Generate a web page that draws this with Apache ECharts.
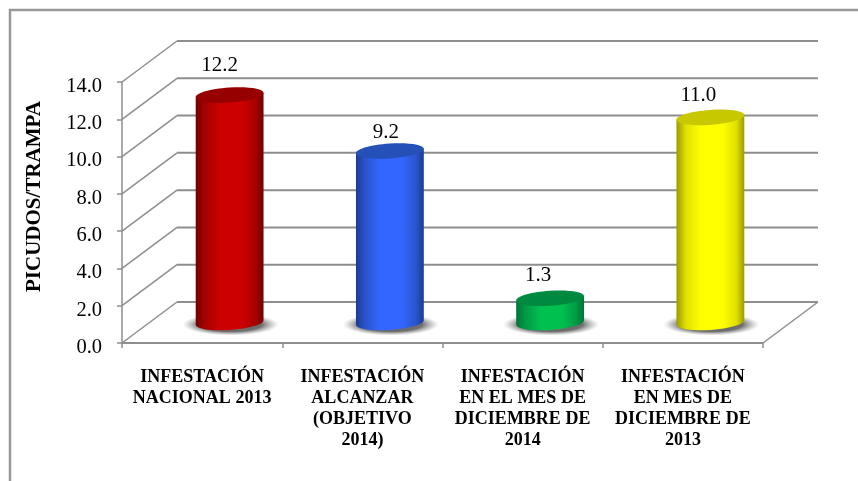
<!DOCTYPE html>
<html>
<head>
<meta charset="utf-8">
<style>
html,body{margin:0;padding:0;background:#fff;overflow:hidden}
#main{width:858px;height:481px}
</style>
<script src="https://cdn.jsdelivr.net/npm/echarts@6/dist/echarts.min.js"></script>
</head>
<body>
<div id="main"></div>
<script>
var categories = [
    'INFESTACIÓN\nNACIONAL 2013',
    'INFESTACIÓN\nALCANZAR\n(OBJETIVO\n2014)',
    'INFESTACIÓN\nEN EL MES DE\nDICIEMBRE DE\n2014',
    'INFESTACIÓN\nEN MES DE\nDICIEMBRE DE\n2013'
];
var values = [12.2, 9.2, 1.3, 11.0];
var yTicks = [0, 2, 4, 6, 8, 10, 12, 14];

// one palette per cylinder: edge, shoulder, centre, lid
var edgeColors = ['#720000', '#1c3a94', '#00733a', '#9a9a00'];
var shoulderColors = ['#a60000', '#2b55cc', '#009a45', '#e0e000'];
var centerColors = ['#cc0000', '#3366ff', '#00c050', '#ffff00'];
var lidColors = ['#960000', '#2450b8', '#008a40', '#c8c800'];

// hand placed value labels, relative to the middle of the lid
var labelShiftX = [-10, -4, -12, -12];
var labelShiftY = [-30, -19, -23, -22];

var FONT = '"Liberation Serif", "Times New Roman", serif';
var GRID_COLOR = '#8e8e8e';
var DEPTH_X = 55;
var DEPTH_Y = -41;
var RX = 34;
var RY = 7.5;
var TILT = 4 * Math.PI / 180;

function render_walls(params, api) {
    var cs = params.coordSys;
    var y = api.coord([0, api.value(0)])[1];
    var left = cs.x;
    var right = cs.x + cs.width;
    var children = [{
        type: 'line',
        shape: {x1: left, y1: y, x2: left + DEPTH_X, y2: y + DEPTH_Y},
        style: {stroke: GRID_COLOR, lineWidth: 1.5}
    }, {
        type: 'line',
        shape: {x1: left + DEPTH_X, y1: y + DEPTH_Y, x2: right + DEPTH_X, y2: y + DEPTH_Y},
        style: {stroke: GRID_COLOR, lineWidth: 2}
    }];
    // floor edge on the right
    if (api.value(0) === 0) {
        children.push({
            type: 'line',
            shape: {x1: right, y1: y, x2: right + DEPTH_X, y2: y + DEPTH_Y},
            style: {stroke: GRID_COLOR, lineWidth: 1.5}
        });
    }
    return {type: 'group', children: children};
}

function render_cylinder(params, api) {
    var i = params.dataIndex;
    var base = api.coord([api.value(0), 0]);
    var top = api.coord([api.value(0), api.value(1)]);
    var cx = base[0] + DEPTH_X / 2;
    var by = base[1] + DEPTH_Y / 2;
    var ty = top[1] + DEPTH_Y / 2;
    var dx = RX * Math.cos(TILT);
    var dy = RX * Math.sin(TILT);

    var body = 'M' + (cx - dx) + ' ' + (ty + dy) +
        ' L' + (cx - dx) + ' ' + (by + dy) +
        ' A' + RX + ' ' + RY + ' -4 0 0 ' + (cx + dx) + ' ' + (by - dy) +
        ' L' + (cx + dx) + ' ' + (ty - dy) + ' Z';

    return {
        type: 'group',
        children: [{
            type: 'circle',
            x: cx + 1,
            y: by + 2,
            scaleX: 48,
            scaleY: 11,
            shape: {cx: 0, cy: 0, r: 1},
            style: {
                fill: new echarts.graphic.RadialGradient(0.5, 0.5, 0.5, [
                    {offset: 0, color: 'rgba(85,85,85,0.95)'},
                    {offset: 0.65, color: 'rgba(95,95,95,0.9)'},
                    {offset: 1, color: 'rgba(150,150,150,0)'}
                ])
            }
        }, {
            type: 'path',
            shape: {pathData: body},
            style: {
                fill: new echarts.graphic.LinearGradient(0, 0, 1, 0, [
                    {offset: 0, color: edgeColors[i]},
                    {offset: 0.14, color: shoulderColors[i]},
                    {offset: 0.36, color: centerColors[i]},
                    {offset: 0.68, color: centerColors[i]},
                    {offset: 0.88, color: shoulderColors[i]},
                    {offset: 1, color: edgeColors[i]}
                ])
            }
        }, {
            type: 'ellipse',
            originX: cx,
            originY: ty,
            rotation: TILT,
            shape: {cx: cx, cy: ty, rx: RX, ry: RY},
            style: {fill: lidColors[i]}
        }, {
            type: 'text',
            x: cx + labelShiftX[i],
            y: ty + labelShiftY[i],
            style: {
                text: api.value(1).toFixed(1),
                font: '21px ' + FONT,
                fill: '#000',
                align: 'center',
                verticalAlign: 'middle'
            }
        }]
    };
}

var myChart = echarts.init(document.getElementById('main'), null, {renderer: 'canvas'});

var option = {
    animation: false,
    backgroundColor: '#fff',
    // chart frame, right and bottom edges fall off the picture
    graphic: [{
        type: 'rect',
        silent: true,
        shape: {x: 10, y: 10, width: 870, height: 490},
        style: {fill: 'none', stroke: '#999', lineWidth: 2.5}
    }],
    grid: {left: 122, top: 82, width: 641, height: 261},
    xAxis: {
        type: 'category',
        data: categories,
        axisLine: {show: true, lineStyle: {color: GRID_COLOR, width: 2}},
        axisTick: {show: true, alignWithLabel: false, length: 5, lineStyle: {color: GRID_COLOR, width: 1.5}},
        axisLabel: {
            interval: 0,
            margin: 24,
            color: '#000',
            fontFamily: FONT,
            fontWeight: 'bold',
            fontSize: 18,
            lineHeight: 21
        }
    },
    yAxis: {
        type: 'value',
        min: 0,
        max: 14,
        interval: 2,
        name: 'PICUDOS/TRAMPA',
        nameLocation: 'middle',
        nameGap: 77,
        nameTextStyle: {
            color: '#000',
            fontFamily: FONT,
            fontWeight: 'bold',
            fontSize: 21,
            padding: [0, 0, 0, 32]
        },
        axisLine: {show: true, lineStyle: {color: GRID_COLOR, width: 1.5}},
        axisTick: {show: true, length: 5, lineStyle: {color: GRID_COLOR, width: 1.5}},
        axisLabel: {
            margin: 20,
            verticalAlign: 'top',
            lineHeight: 9,
            color: '#000',
            fontFamily: FONT,
            fontSize: 20.5,
            formatter: function (v) { return v.toFixed(1); }
        },
        splitLine: {show: false}
    },
    series: [{
        type: 'custom',
        name: 'paredes',
        z: 1,
        silent: true,
        clip: false,
        renderItem: render_walls,
        encode: {y: 0},
        data: yTicks.map(function (v) { return [v]; })
    }, {
        type: 'custom',
        name: 'PICUDOS/TRAMPA',
        z: 3,
        clip: false,
        renderItem: render_cylinder,
        encode: {x: 0, y: 1},
        data: values.map(function (v, i) { return [i, v]; })
    }]
};

myChart.setOption(option);
</script>
</body>
</html>
